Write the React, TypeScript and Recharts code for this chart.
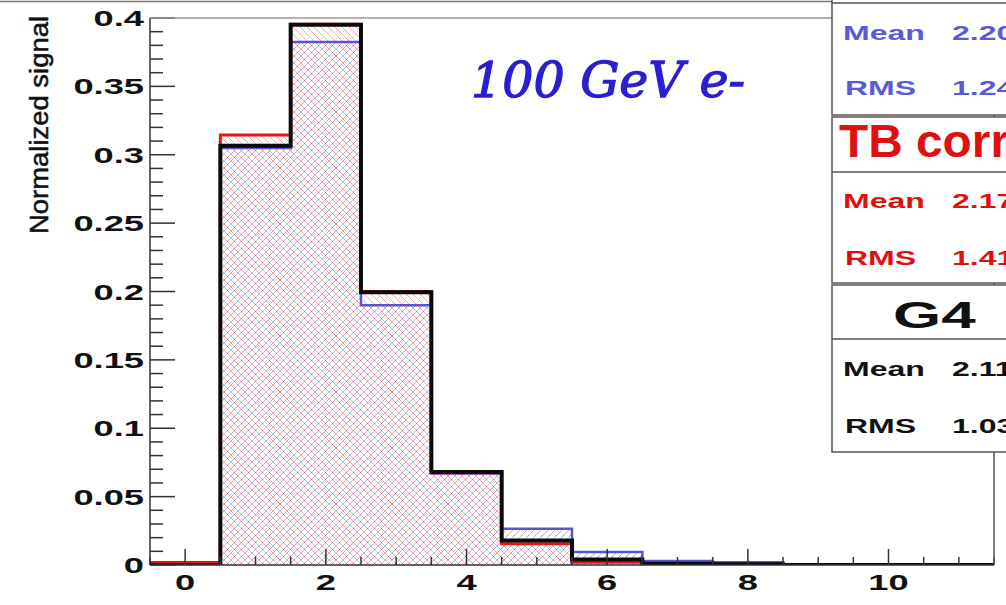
import React from "react";
import { ComposedChart, Area, Line, XAxis, YAxis } from "recharts";

// histogram bins are 1 unit wide, centred on the integers 0..11
const binEdges = [-0.5, 0.5, 1.5, 2.5, 3.5, 4.5, 5.5, 6.5, 7.5, 8.5, 9.5, 10.5, 11.5];

// normalized bin contents, bins 0..11
const tbRaw = [0.001, 0.305, 0.3825, 0.19, 0.067, 0.0265, 0.0095, 0.003, 0.002, 0, 0, 0];
const tbCorr = [0.0018, 0.3145, 0.3955, 0.2, 0.0675, 0.0155, 0.002, 0.001, 0.0005, 0, 0, 0];
const g4 = [0, 0.3065, 0.395, 0.1995, 0.068, 0.018, 0.004, 0.001, 0.0005, 0, 0, 0];

const yMajorTicks = [0, 0.05, 0.1, 0.15, 0.2, 0.25, 0.3, 0.35, 0.4];
const xMajorTicks = [0, 2, 4, 6, 8, 10];
const yMinorPerMajor = 5;
const xMinorStep = 0.5;

// stat boxes
const statRows = [
  { title: "", color: "#5a5ad8", mean: "2.20", rms: "1.24" },
  { title: "TB corr", color: "#e01010", mean: "2.17", rms: "1.41" },
  { title: "G4", color: "#111111", mean: "2.11", rms: "1.03" },
];

const W = 1006;
const H = 605;

const data = binEdges.map((x, i) => {
  const b = Math.min(i, g4.length - 1);
  return { x, tbRaw: tbRaw[b], tbCorr: tbCorr[b], g4: g4[b] };
});

const yTicks: number[] = [];
for (let i = 0; i < yMajorTicks.length - 1; i++) {
  const step = (yMajorTicks[i + 1] - yMajorTicks[i]) / yMinorPerMajor;
  for (let k = 0; k < yMinorPerMajor; k++) yTicks.push(+(yMajorTicks[i] + k * step).toFixed(4));
}
yTicks.push(yMajorTicks[yMajorTicks.length - 1]);

const xTicks: number[] = [];
for (let v = binEdges[0]; v <= binEdges[binEdges.length - 1] + 1e-9; v += xMinorStep) xTicks.push(+v.toFixed(2));

const isMajor = (list: number[], v: number) => list.some((m) => Math.abs(m - v) < 1e-6);

const labelFont = "'Liberation Sans', Arial, Helvetica, sans-serif";

const YTick = (props: any) => {
  const { x, y, payload } = props;
  const major = isMajor(yMajorTicks, payload.value);
  return (
    <g>
      <line x1={x} x2={x + (major ? 25 : 13)} y1={y} y2={y} stroke="#333" strokeWidth={1.5} />
      {major && (
        <text
          transform={`translate(${x - 6},${y + 8}) scale(1.65,1)`}
          textAnchor="end"
          fontFamily={labelFont}
          fontWeight="bold"
          fontSize={22}
          fill="#111"
        >
          {String(payload.value)}
        </text>
      )}
    </g>
  );
};

const XTick = (props: any) => {
  const { x, y, payload } = props;
  const major = isMajor(xMajorTicks, payload.value);
  return (
    <g>
      <line x1={x} x2={x} y1={y} y2={y - (major ? 16 : 8)} stroke="#333" strokeWidth={1.5} />
      {major && (
        <text
          transform={`translate(${x},${y + 25}) scale(1.65,1)`}
          textAnchor="middle"
          fontFamily={labelFont}
          fontWeight="bold"
          fontSize={22}
          fill="#111"
        >
          {String(payload.value)}
        </text>
      )}
    </g>
  );
};

const StatText = ({ x, y, text, color }: { x: number; y: number; text: string; color: string }) => (
  <text
    transform={`translate(${x},${y}) scale(1.6,1)`}
    fontFamily={labelFont}
    fontWeight="bold"
    fontSize={20}
    fill={color}
  >
    {text}
  </text>
);

export default function App() {
  const boxes = [
    { top: -40, header: 3, bottom: 115, meanY: 40, rmsY: 95 },
    { top: 117, header: 172, bottom: 283, meanY: 208, rmsY: 265 },
    { top: 285, header: 339, bottom: 452, meanY: 376, rmsY: 433 },
  ];
  return (
    <div style={{ position: "fixed", left: 0, top: 0, width: W, height: H, overflow: "hidden", background: "#fff" }}>
      <ComposedChart width={W} height={H} data={data} margin={{ top: 18, right: 12, left: 0, bottom: 0 }}>
        <defs>
          <pattern id="hatchBlue" patternUnits="userSpaceOnUse" width="7" height="7">
            <path d="M-1,8 L8,-1 M-1,1 L1,-1 M6,8 L8,6" stroke="#4646b0" strokeWidth="0.9" strokeOpacity="0.45" />
            <circle cx="3.5" cy="3.5" r="0.7" fill="#5050b8" fillOpacity="0.35" />
          </pattern>
          <pattern id="hatchRed" patternUnits="userSpaceOnUse" width="7" height="7">
            <path d="M-1,-1 L8,8 M6,-1 L8,1 M-1,6 L1,8" stroke="#dc2a2a" strokeWidth="0.9" strokeOpacity="0.45" />
            <circle cx="0" cy="3.5" r="0.7" fill="#d03040" fillOpacity="0.35" />
          </pattern>
        </defs>
        <XAxis
          type="number"
          dataKey="x"
          domain={[binEdges[0], binEdges[binEdges.length - 1]]}
          ticks={xTicks}
          interval={0}
          height={40}
          tickSize={0}
          tickMargin={0}
          tickLine={false}
          axisLine={{ stroke: "#333", strokeWidth: 1.5 }}
          tick={<XTick />}
          allowDataOverflow
        />
        <YAxis
          type="number"
          domain={[0, 0.4]}
          ticks={yTicks}
          interval={0}
          width={150}
          tickSize={0}
          tickMargin={0}
          tickLine={false}
          axisLine={{ stroke: "#333", strokeWidth: 1.5 }}
          tick={<YTick />}
          allowDataOverflow
        />
        <Area
          type="stepAfter"
          dataKey="tbRaw"
          stroke="#5656d4"
          strokeWidth={2.5}
          fill="url(#hatchBlue)"
          fillOpacity={1}
          dot={false}
          activeDot={false}
          isAnimationActive={false}
        />
        <Area
          type="stepAfter"
          dataKey="tbCorr"
          stroke="#e81414"
          strokeWidth={3}
          fill="url(#hatchRed)"
          fillOpacity={1}
          dot={false}
          activeDot={false}
          isAnimationActive={false}
        />
        <Line
          type="stepAfter"
          dataKey="g4"
          stroke="#0a0a0a"
          strokeWidth={4}
          dot={false}
          activeDot={false}
          isAnimationActive={false}
        />
      </ComposedChart>

      <svg width={W} height={H} style={{ position: "absolute", left: 0, top: 0, pointerEvents: "none" }}>
        {/* frame */}
        <line x1={0} x2={832} y1={1.5} y2={1.5} stroke="#777" strokeWidth={1.5} />
        <line x1={150} x2={994} y1={18} y2={18} stroke="#999" strokeWidth={1.5} />
        <line x1={994} x2={994} y1={18} y2={565} stroke="#555" strokeWidth={1.5} />

        <text
          x={471}
          y={97}
          fontFamily="'DejaVu Serif', 'Liberation Serif', serif"
          fontStyle="italic"
          fontSize={49}
          fill="#2a1ed2"
          stroke="#2a1ed2"
          strokeWidth={1.3}
          textLength={274}
          lengthAdjust="spacingAndGlyphs"
        >
          100 GeV e-
        </text>

        <text
          transform="translate(48,125) rotate(-90)"
          textAnchor="middle"
          fontFamily={labelFont}
          fontSize={25}
          fill="#111"
          stroke="#111"
          strokeWidth={0.5}
          textLength={218}
          lengthAdjust="spacingAndGlyphs"
        >
          Normalized signal
        </text>

        {statRows.map((s, i) => {
          const b = boxes[i];
          return (
            <g key={i}>
              <rect x={832} y={b.top} width={230} height={b.bottom - b.top} fill="#fff" stroke="#555" strokeWidth={1.5} />
              <line x1={832} x2={1062} y1={b.header} y2={b.header} stroke="#555" strokeWidth={1.5} />
              {s.title === "TB corr" && (
                <text
                  transform={`translate(839,157) scale(1.04,1)`}
                  fontFamily={labelFont}
                  fontWeight="bold"
                  fontSize={46}
                  fill={s.color}
                >
                  {s.title}
                </text>
              )}
              {s.title === "G4" && (
                <text
                  transform={`translate(893,328) scale(1.72,1)`}
                  fontFamily={labelFont}
                  fontWeight="bold"
                  fontSize={36}
                  fill={s.color}
                >
                  {s.title}
                </text>
              )}
              <StatText x={843} y={b.meanY} text="Mean" color={s.color} />
              <StatText x={952} y={b.meanY} text={s.mean} color={s.color} />
              <StatText x={845} y={b.rmsY} text="RMS" color={s.color} />
              <StatText x={952} y={b.rmsY} text={s.rms} color={s.color} />
            </g>
          );
        })}
      </svg>
    </div>
  );
}
